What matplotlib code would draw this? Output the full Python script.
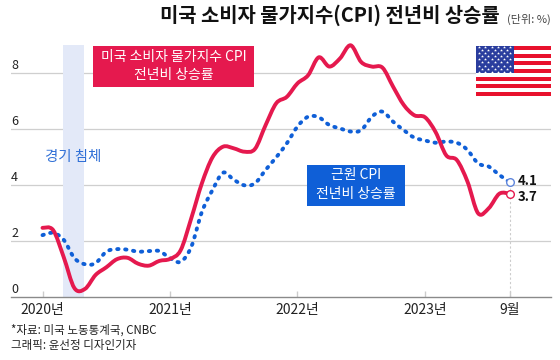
"""
US CPI vs core CPI, year on year.
"""

import matplotlib.pyplot as plt
import numpy as np

from matplotlib.patches import PathPatch, Rectangle
from matplotlib.path import Path

plt.rcParams["font.family"] = ["Noto Sans CJK KR", "DejaVu Sans"]

# Monthly values, Jan 2020 to Sep 2023, in %.
cpi = [2.48, 2.4, 1.43, 0.33, 0.3, 0.8, 1.07, 1.36, 1.41, 1.2, 1.13, 1.3,
       1.37, 1.68, 2.82, 4.07, 5.0, 5.38, 5.32, 5.2, 5.3, 6.15, 6.93, 7.16,
       7.64, 7.93, 8.57, 8.24, 8.53, 9.0, 8.4, 8.24, 8.2, 7.52, 6.87, 6.5,
       6.43, 5.9, 5.07, 4.9, 4.13, 3.0, 3.18, 3.7, 3.7]
core_cpi = [2.22, 2.3, 2.05, 1.4, 1.18, 1.22, 1.63, 1.72, 1.7, 1.63, 1.65, 1.65,
            1.4, 1.27, 1.8, 3.05, 3.83, 4.45, 4.2, 4.0, 4.07, 4.55, 5.0, 5.5,
            6.1, 6.45, 6.43, 6.15, 6.03, 5.92, 5.97, 6.45, 6.63, 6.27, 5.97, 5.7,
            5.6, 5.52, 5.56, 5.52, 5.26, 4.78, 4.67, 4.37, 4.1]

y_ticks = [0, 2, 4, 6, 8]
x_ticks = [0, 12, 24, 36, 44]
x_labels = ["2020년", "2021년", "2022년", "2023년", "9월"]
recession = [1.93, 3.9]

RED = "#e5194e"
BLUE = "#0f5fd7"
GREY = "#cfcfcf"
W, H = 560, 360


def smooth_path(y):
    """
    Catmull-Rom curve through the monthly values, as bezier segments.
    """

    points = np.column_stack([np.arange(len(y)), y]).astype(float)
    vertices = [points[0]]
    codes = [Path.MOVETO]

    for i in range(len(points) - 1):
        before = points[max(i - 1, 0)]
        after = points[min(i + 2, len(points) - 1)]
        vertices += [
            points[i] + (points[i + 1] - before) / 6,
            points[i + 1] - (after - points[i]) / 6,
            points[i + 1],
        ]
        codes += [Path.CURVE4] * 3

    return Path(vertices, codes)


def pixel_box(fig, x0, y0, x1, y1, color, zorder=4):
    """
    Rectangle in reference pixels (y from the top).
    """

    fig.add_artist(
        Rectangle(
            (x0 / W, 1 - y1 / H),
            (x1 - x0) / W,
            (y1 - y0) / H,
            transform=fig.transFigure,
            facecolor=color,
            edgecolor="none",
            zorder=zorder,
        )
    )


def pixel_text(fig, x, y, text, **kwargs):
    fig.text(x / W, 1 - y / H, text, va="center", zorder=6, **kwargs)


def draw_flag(fig):
    """
    Flag as a small axes of its own.
    """

    flag = fig.add_axes([476 / W, 1 - 96 / H, 75 / W, 50 / H], zorder=5)
    flag.set_xlim(0, 1)
    flag.set_ylim(0, 13)
    flag.axis("off")
    flag.add_patch(Rectangle((0, 0), 1, 13, facecolor="white", edgecolor="none"))

    for stripe in range(0, 13, 2):
        flag.add_patch(Rectangle((0, stripe), 1, 1, facecolor="#e8112d", edgecolor="none"))

    flag.add_patch(Rectangle((0, 6), 0.5, 7, facecolor="#2a3d9e", edgecolor="none", zorder=2))

    star_x = []
    star_y = []
    for row in range(9):
        columns = 6 if row % 2 == 0 else 5
        offset = 0.042 if row % 2 == 0 else 0.083
        for column in range(columns):
            star_x.append(offset + column * 0.083)
            star_y.append(6.35 + row * 0.79)

    flag.scatter(star_x, star_y, s=5, marker="*", color="white", linewidths=0, zorder=3)


def main():
    fig = plt.figure(figsize=(W / 100, H / 100), dpi=100)
    ax = fig.add_axes([11 / W, 1 - 297.3 / H, 540 / W, 252.3 / H])

    ax.set_xlim(-2.965, 47.86)
    ax.set_ylim(0, 9.01)

    ax.axvspan(recession[0], recession[1], color="#e3e9f8", linewidth=0, zorder=1)

    for value in y_ticks[1:]:
        ax.axhline(value, color=GREY, linewidth=0.9, zorder=0.5)
    for value in y_ticks:
        ax.text(-2.95, value + 0.29, str(value), fontsize=9, color="#222222", va="center", ha="left")

    for side in ["top", "left", "right"]:
        ax.spines[side].set_visible(False)
    ax.spines["bottom"].set_color("#8a8a8a")
    ax.spines["bottom"].set_linewidth(1.0)
    ax.set_yticks([])
    ax.set_xticks(x_ticks, x_labels, fontsize=10, color="#222222")
    ax.tick_params(axis="x", direction="in", length=4, width=1, color="#cccccc", pad=4)

    ax.plot([44, 44], [0, 4.1], color="#cccccc", linewidth=0.8, linestyle=(0, (2, 2)), zorder=1)

    ax.add_patch(
        PathPatch(
            smooth_path(core_cpi),
            fill=False,
            edgecolor=BLUE,
            linewidth=2.8,
            linestyle=(0, (0.35, 1.7)),
            capstyle="round",
            zorder=3,
            clip_on=False,
        )
    )
    ax.add_patch(
        PathPatch(
            smooth_path(cpi),
            fill=False,
            edgecolor=RED,
            linewidth=2.8,
            capstyle="round",
            joinstyle="round",
            zorder=3.5,
            clip_on=False,
        )
    )

    ax.plot(44, core_cpi[-1], "o", ms=5.5, mfc="white", mec="#5f86dc", mew=1, zorder=5)
    ax.plot(44, cpi[-1], "o", ms=5.5, mfc="white", mec=RED, mew=1, zorder=5)
    ax.text(44.75, core_cpi[-1] + 0.06, "4.1", fontsize=9.5, fontweight="bold", va="center", color="#111111")
    ax.text(44.75, cpi[-1] - 0.13, "3.7", fontsize=9.5, fontweight="bold", va="center", color="#111111")

    pixel_text(fig, 330, 15, "미국 소비자 물가지수(CPI) 전년비 상승률", fontsize=14.3, fontweight="bold", ha="center", color="#111111")
    pixel_text(fig, 507, 19, "(단위: %)", fontsize=8, ha="left", color="#444444")

    pixel_box(fig, 93, 46, 254, 87, RED)
    pixel_text(fig, 173.5, 57, "미국 소비자 물가지수 CPI", fontsize=10, ha="center", color="white")
    pixel_text(fig, 173.5, 75, "전년비 상승률", fontsize=10, ha="center", color="white")

    pixel_box(fig, 307, 165, 405, 206, BLUE)
    pixel_text(fig, 356, 175, "근원 CPI", fontsize=10, ha="center", color="white")
    pixel_text(fig, 356, 194, "전년비 상승률", fontsize=10, ha="center", color="white")

    pixel_text(fig, 73, 157, "경기 침체", fontsize=10.4, ha="center", color="#2f6fd6")

    pixel_text(fig, 11, 330, "*자료: 미국 노동통계국, CNBC", fontsize=8.3, ha="left", color="#222222")
    pixel_text(fig, 11, 346, "그래픽: 윤선정 디자인기자", fontsize=8.3, ha="left", color="#222222")

    draw_flag(fig)

    fig.savefig("out.png", dpi=100)


if __name__ == "__main__":
    main()
